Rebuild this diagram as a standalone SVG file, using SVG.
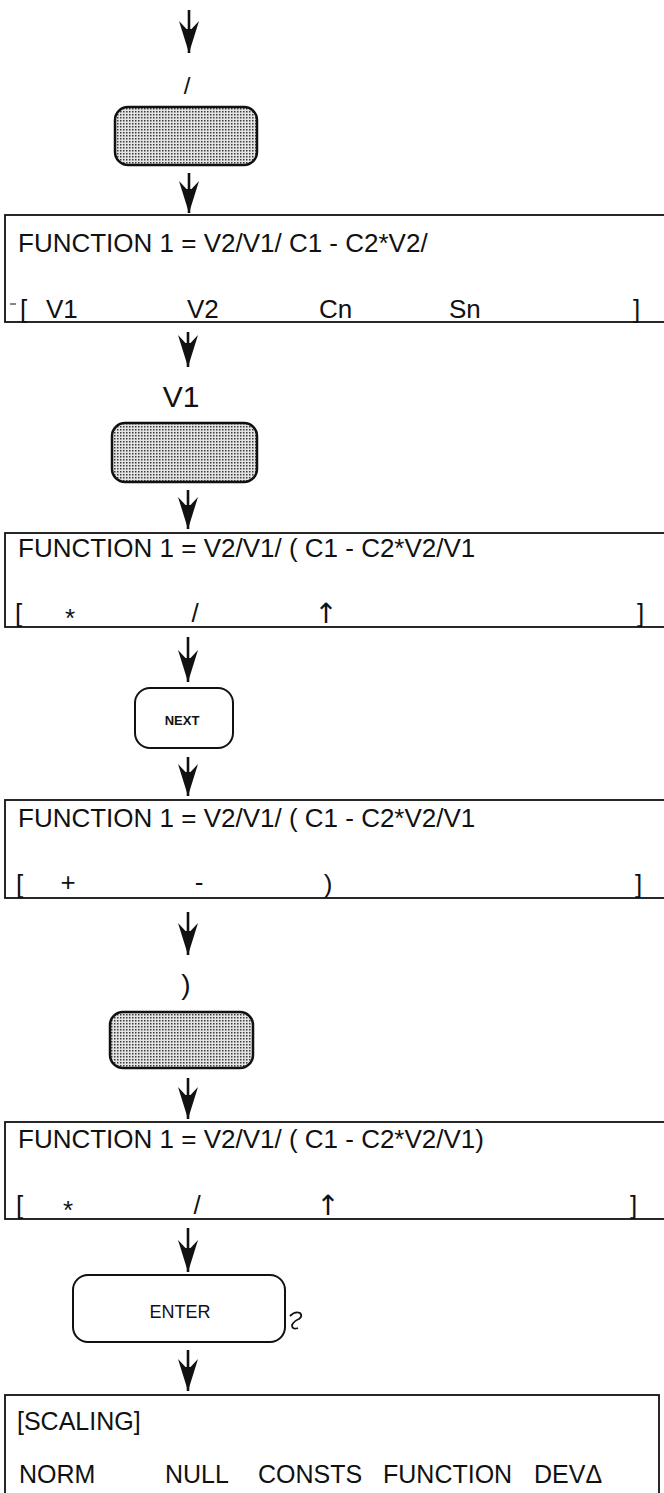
<svg xmlns="http://www.w3.org/2000/svg" width="664" height="1493" viewBox="0 0 664 1493">
<style>
.box{fill:#fff;stroke:#111;stroke-width:1.8}
.key{fill:url(#dots);stroke:#111;stroke-width:2.5}
.btn{fill:#fff;stroke:#111;stroke-width:2}
.t{font-family:"Liberation Sans",Arial,sans-serif;font-size:26px;fill:#111}
.s{font-family:"Liberation Sans",Arial,sans-serif;font-size:25px;fill:#111}
.m{text-anchor:middle}
.ar{font-family:"DejaVu Sans",sans-serif;font-size:28px;fill:#111;text-anchor:middle}
.lbl{font-family:"Liberation Sans",Arial,sans-serif;fill:#111;text-anchor:middle}
.con{stroke:#111;stroke-width:2.6;fill:none;marker-end:url(#head)}
</style>
<defs>
<pattern id="dots" width="3" height="3" patternUnits="userSpaceOnUse">
<rect width="3" height="3" fill="#e4e4e4"/>
<rect width="1.5" height="1.5" fill="#3a3a3a"/>
</pattern>
<marker id="head" viewBox="-34 -12 36 24" refX="0" refY="0" markerWidth="36" markerHeight="24" markerUnits="userSpaceOnUse" orient="auto">
<path d="M0,0 L-32,-10 L-24,-2.5 L-24,2.5 L-32,10 Z" fill="#111"/>
</marker>
</defs>

<g id="connectors">
<line class="con" x1="189" y1="10" x2="189" y2="53"/>
<line class="con" x1="189" y1="173" x2="189" y2="213"/>
<line class="con" x1="188" y1="332" x2="188" y2="367"/>
<line class="con" x1="188" y1="490" x2="188" y2="529"/>
<line class="con" x1="188" y1="637" x2="188" y2="682"/>
<line class="con" x1="188" y1="757" x2="188" y2="796"/>
<line class="con" x1="188" y1="912" x2="188" y2="955"/>
<line class="con" x1="188" y1="1078" x2="188" y2="1119"/>
<line class="con" x1="188" y1="1228" x2="188" y2="1272"/>
<line class="con" x1="188" y1="1350" x2="188" y2="1391"/>
</g>

<g id="label-slash"><text class="lbl" x="187" y="94" font-size="24">/</text></g>
<g id="key1"><rect class="key" x="115" y="107" width="142" height="58" rx="13"/></g>

<g id="screen1">
<rect class="box" x="5" y="215" width="670" height="107"/>
<text class="t" x="18" y="252">FUNCTION 1 = V2/V1/ C1 - C2*V2/</text>
<line x1="10" y1="304" x2="16" y2="304" stroke="#111" stroke-width="1"/>
<text class="t" x="20" y="318">[</text>
<text class="t" x="46" y="318">V1</text>
<text class="t" x="187" y="318">V2</text>
<text class="t" x="319" y="318">Cn</text>
<text class="t" x="449" y="318">Sn</text>
<text class="t" x="633" y="318">]</text>
</g>

<g id="label-v1"><text class="lbl" x="181" y="407" font-size="30">V1</text></g>
<g id="key2"><rect class="key" x="112" y="423" width="145" height="59" rx="13"/></g>

<g id="screen2">
<rect class="box" x="5" y="533" width="670" height="94"/>
<text class="t" x="18" y="557">FUNCTION 1 = V2/V1/ ( C1 - C2*V2/V1</text>
<text class="t" x="15" y="622">[</text>
<text class="t m" x="70" y="627">*</text>
<text class="t m" x="195" y="622">/</text>
<text class="ar" x="326" y="623">↑</text>
<text class="t" x="637" y="622">]</text>
</g>

<g id="key-next">
<rect class="btn" x="135" y="688" width="98" height="60" rx="15"/>
<text class="lbl" x="182" y="725" font-size="13" font-weight="bold">NEXT</text>
</g>

<g id="screen3">
<rect class="box" x="5" y="800" width="670" height="98"/>
<text class="t" x="18" y="827">FUNCTION 1 = V2/V1/ ( C1 - C2*V2/V1</text>
<text class="t" x="16" y="893">[</text>
<text class="t m" x="68" y="891">+</text>
<text class="t m" x="199" y="891">-</text>
<text class="t m" x="328" y="893">)</text>
<text class="t" x="635" y="893">]</text>
</g>

<g id="label-paren"><text class="lbl" x="186" y="994" font-size="28">)</text></g>
<g id="key3"><rect class="key" x="110" y="1012" width="143" height="56" rx="13"/></g>

<g id="screen4">
<rect class="box" x="5" y="1122" width="670" height="97"/>
<text class="t" x="18" y="1148">FUNCTION 1 = V2/V1/ ( C1 - C2*V2/V1)</text>
<text class="t" x="16" y="1214">[</text>
<text class="t m" x="68" y="1219">*</text>
<text class="t m" x="197" y="1214">/</text>
<text class="ar" x="328" y="1215">↑</text>
<text class="t" x="630" y="1214">]</text>
</g>

<g id="key-enter">
<rect class="btn" x="73" y="1275" width="212" height="67" rx="15"/>
<text class="lbl" x="180" y="1318" font-size="18">ENTER</text>
<path d="M290,1316 q5,-5 10,-3 q3,3 -1,6 q-5,2 -7,6 q0,5 6,3" fill="none" stroke="#111" stroke-width="1.8"/>
</g>

<g id="screen5">
<rect class="box" x="5" y="1395" width="654" height="110"/>
<text class="s" x="17" y="1430">[SCALING]</text>
<text class="s" x="19" y="1483">NORM</text>
<text class="s" x="165" y="1483">NULL</text>
<text class="s" x="258" y="1483">CONSTS</text>
<text class="s" x="383" y="1483">FUNCTION</text>
<text class="s" x="534" y="1483">DEVΔ</text>
</g>
</svg>
